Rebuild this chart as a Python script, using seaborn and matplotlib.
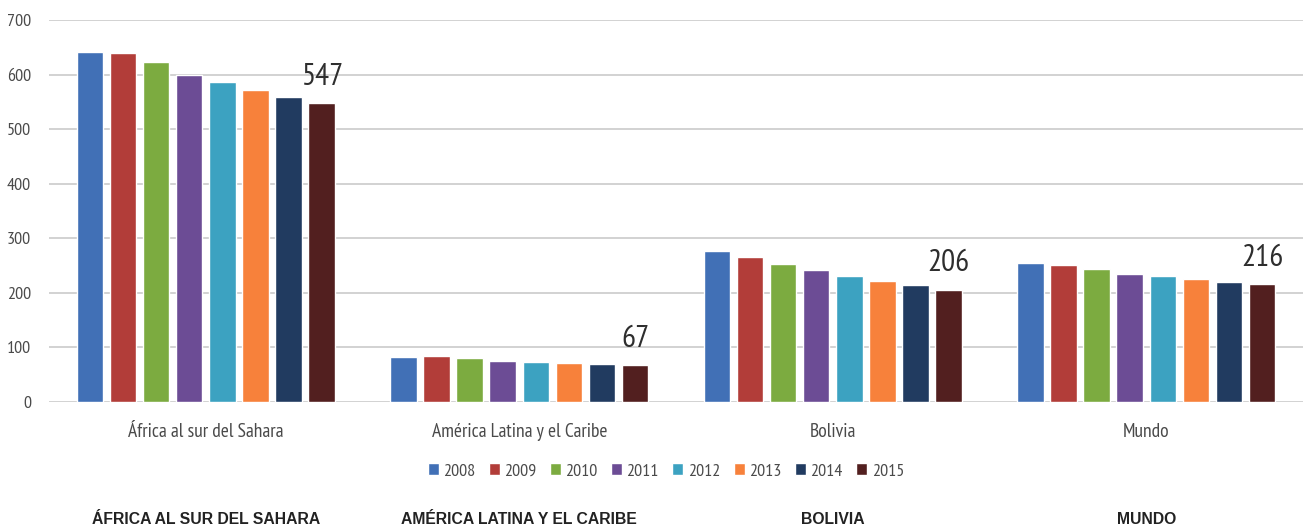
import matplotlib
matplotlib.use("Agg")
import matplotlib.pyplot as plt
import matplotlib.transforms as mtransforms
import pandas as pd
import seaborn as sns

# Tasa de mortalidad por región y año
regions = ["África al sur del Sahara", "América Latina y el Caribe", "Bolivia", "Mundo"]
region_captions = ["ÁFRICA AL SUR DEL SAHARA", "AMÉRICA LATINA Y EL CARIBE", "BOLIVIA", "MUNDO"]
years = ["2008", "2009", "2010", "2011", "2012", "2013", "2014", "2015"]

africa = [642, 639, 623, 599, 586, 572, 558, 547]
america_latina = [82, 84, 80, 76, 74, 72, 69, 67]
bolivia = [277, 266, 252, 241, 230, 222, 215, 206]
mundo = [255, 251, 244, 235, 230, 225, 220, 216]

year_colors = ["#4170b6", "#b23d39", "#7cab40", "#6c4c95", "#3ca2c1",
               "#f7813b", "#213b60", "#521f1f"]

y_ticks = [0, 100, 200, 300, 400, 500, 600, 700]

series = [africa, america_latina, bolivia, mundo]
rows = []
for region, values in zip(regions, series):
    for year, v in zip(years, values):
        rows.append({"region": region, "year": year, "valor": v})
df = pd.DataFrame(rows)

sns.set_theme(style="white")
plt.rcParams["font.family"] = ["PT Sans Narrow", "DejaVu Sans"]

fig = plt.figure(figsize=(13.03, 5.31), dpi=100)
fig.patch.set_facecolor("white")
ax = fig.add_axes([49 / 1303, 129 / 531, 1 - 49 / 1303, 382 / 531])

sns.barplot(data=df, x="region", y="valor", hue="year", order=regions,
            hue_order=years, palette=year_colors, width=0.845, gap=0.2,
            saturation=1, errorbar=None, ax=ax)

ax.set_xlim(-0.5, 3.5)
ax.set_ylim(0, 700)
ax.set_yticks(y_ticks)
ax.set_yticklabels([str(t) for t in y_ticks])
ax.yaxis.grid(True, color="#d2d2d2", linewidth=1.4)
ax.set_axisbelow(True)
for s in ax.spines.values():
    s.set_visible(False)
ax.set_xlabel("")
ax.set_ylabel("")
ax.tick_params(axis="y", length=0, pad=13, labelsize=13, labelcolor="#4a4a4a")
ax.tick_params(axis="x", length=0, pad=15, labelsize=14, labelcolor="#4a4a4a")

# Valor de 2015 sobre la última barra de cada grupo
ax.bar_label(ax.containers[-1], fmt="{:.0f}", padding=9, fontsize=22.5,
             color="#2e2e2e")

sns.move_legend(ax, "center", bbox_to_anchor=(0.511, 0.112),
                bbox_transform=fig.transFigure, ncol=8, frameon=False,
                title=None, fontsize=13, handlelength=0.6, handleheight=0.6,
                handletextpad=0.25, columnspacing=0.75)
for t in ax.get_legend().get_texts():
    t.set_color("#4a4a4a")

# Rótulos en mayúsculas bajo cada grupo
trans = mtransforms.blended_transform_factory(ax.transData, fig.transFigure)
for i, cap in enumerate(region_captions):
    ax.text(i, 0.022, cap, transform=trans, ha="center", va="center",
            fontsize=11.3, fontweight="bold", family="Liberation Sans",
            color="#222222")

fig.savefig("out.png", dpi=100, facecolor="white")
